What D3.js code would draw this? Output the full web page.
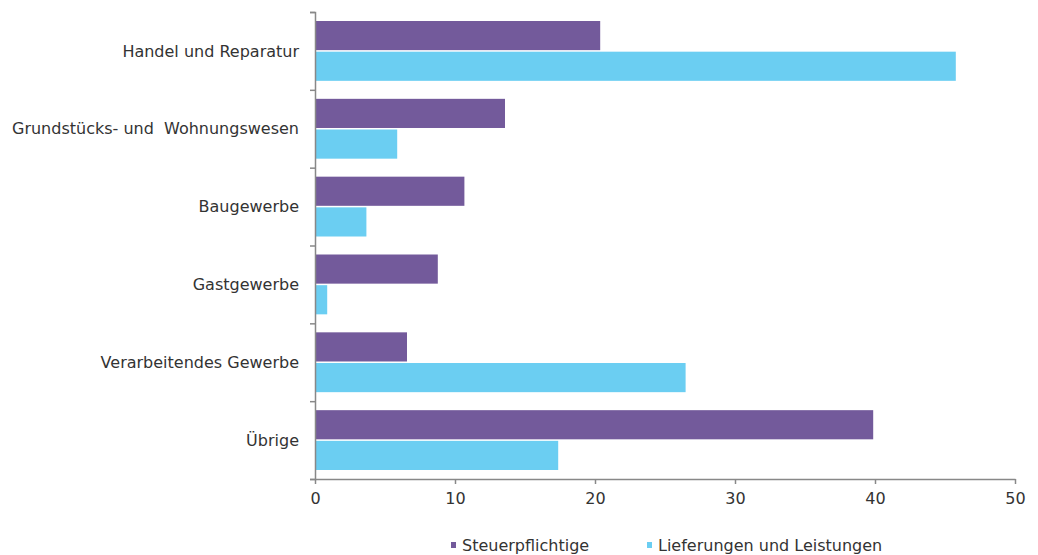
<!DOCTYPE html>
<html>
<head>
<meta charset="utf-8">
<script src="https://cdn.jsdelivr.net/npm/d3@7"></script>
<style>
  html, body { margin: 0; padding: 0; background: #fff; }
  svg text { font-family: "DejaVu Sans", Verdana, sans-serif; fill: #333; }
</style>
</head>
<body>
<svg id="chart" width="1038" height="555"></svg>
<script>
// Sectors, top to bottom
const categories = [
  "Handel und Reparatur",
  "Grundstücks- und  Wohnungswesen",
  "Baugewerbe",
  "Gastgewerbe",
  "Verarbeitendes Gewerbe",
  "Übrige"
];
const seriesNames = ["Steuerpflichtige", "Lieferungen und Leistungen"];
const steuerpflichtige = [20.3, 13.5, 10.6, 8.7, 6.5, 39.8];
const lieferungen = [45.7, 5.8, 3.6, 0.8, 26.4, 17.3];
const xTicks = [0, 10, 20, 30, 40, 50];
const colors = ["#735a9b", "#6bcef2"];

const svg = d3.select("#chart");
const margin = { left: 315, right: 23, top: 12, bottom: 76 };
const W = 1038, H = 555;
const plotW = W - margin.left - margin.right;
const plotH = H - margin.top - margin.bottom;
const fontSize = "16px";

const g = svg.append("g").attr("transform", `translate(${margin.left},${margin.top})`);

const x = d3.scaleLinear().domain([0, 50]).range([0, plotW]);
const y = d3.scaleBand().domain(categories).range([0, plotH]).padding(0);
const pad = 9;
const ySub = d3.scaleBand().domain(seriesNames)
  .range([pad, y.bandwidth() - pad]).paddingInner(0.05);

const rows = categories.map((c, i) => ({
  cat: c,
  vals: [steuerpflichtige[i], lieferungen[i]]
}));

// Bars
const grp = g.selectAll("g.row").data(rows).enter().append("g")
  .attr("class", "row")
  .attr("transform", d => `translate(0,${y(d.cat)})`);
grp.selectAll("rect").data(d => d.vals.map((v, k) => ({ v, k })))
  .enter().append("rect")
  .attr("x", x(0) + 1)
  .attr("y", d => ySub(seriesNames[d.k]))
  .attr("width", d => x(d.v) - x(0))
  .attr("height", ySub.bandwidth())
  .attr("fill", d => colors[d.k]);

// Y axis: line with ticks at band boundaries
const yb = d3.scaleLinear().domain([0, categories.length]).range([0, plotH]);
const yAxis = g.append("g")
  .call(d3.axisLeft(yb).tickValues(d3.range(0, categories.length + 1)).tickSize(5).tickFormat(""));
yAxis.select(".domain").attr("stroke", "#888").attr("stroke-width", 1.5);
yAxis.selectAll(".tick line").attr("stroke", "#888").attr("stroke-width", 1.5);

// Category labels
g.selectAll("text.cat").data(categories).enter().append("text")
  .attr("class", "cat")
  .attr("x", -16)
  .attr("y", d => y(d) + y.bandwidth() / 2)
  .attr("dy", "0.35em")
  .attr("text-anchor", "end")
  .attr("xml:space", "preserve")
  .style("white-space", "pre")
  .style("font-size", fontSize)
  .text(d => d);

// X axis
const xAxis = g.append("g")
  .attr("transform", `translate(0,${plotH})`)
  .call(d3.axisBottom(x).tickValues(xTicks).tickSize(5).tickSizeOuter(0).tickPadding(9));
xAxis.select(".domain").attr("stroke", "#888").attr("stroke-width", 1.5);
xAxis.selectAll(".tick line").attr("stroke", "#888").attr("stroke-width", 1.5);
xAxis.selectAll(".tick text")
  .style("font-family", "'DejaVu Sans', Verdana, sans-serif")
  .style("font-size", fontSize).attr("fill", "#333");

// Legend
const legendX = [451, 647];
const leg = svg.append("g").selectAll("g").data(seriesNames).enter().append("g")
  .attr("transform", (d, i) => `translate(${legendX[i]},545)`);
leg.append("rect").attr("x", 0).attr("y", -3).attr("width", 5).attr("height", 6)
  .attr("fill", (d, i) => colors[i]);
leg.append("text").attr("x", 11).attr("dy", "0.35em")
  .style("font-size", fontSize).text(d => d);
</script>
</body>
</html>
